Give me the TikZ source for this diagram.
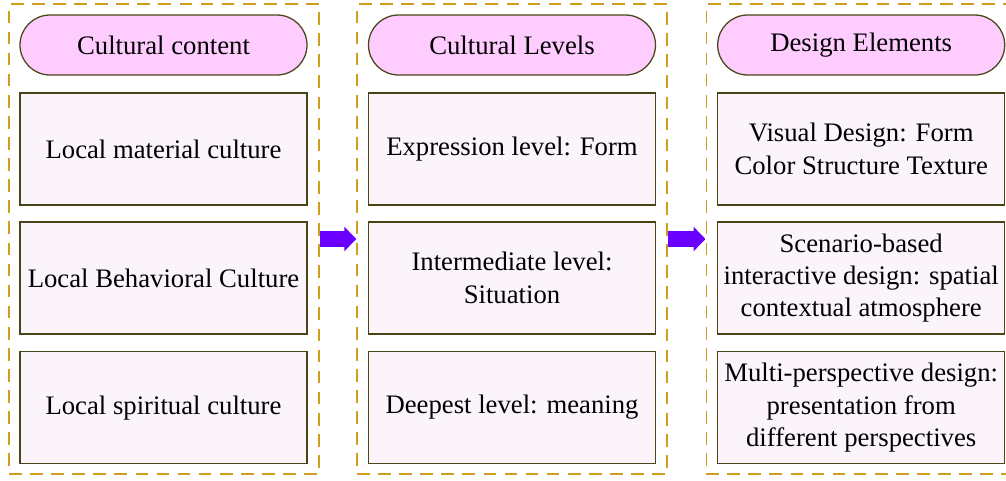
\documentclass[tikz,border=0pt]{standalone}
\usepackage{fontspec}
\setmainfont{Liberation Serif}
\usetikzlibrary{arrows.meta, positioning, shapes.geometric}
\definecolor{gold}{HTML}{D09E1C}
\definecolor{olive}{HTML}{4A4519}
\definecolor{pinkfill}{HTML}{FFCCFF}
\definecolor{lightpink}{HTML}{FBF4FB}
\definecolor{violet2}{HTML}{6A00FF}
\tikzset{
  frame/.style={rectangle, draw=gold, dashed, dash pattern=on 9pt off 6pt, line width=1pt,
    minimum width=7.75cm, minimum height=11.75cm},
  header/.style={rectangle, rounded corners=0.75cm, draw=olive, line width=0.9pt, fill=pinkfill,
    minimum width=7.175cm, minimum height=1.5cm, align=center, font=\fontsize{19}{23}\selectfont},
  item/.style={rectangle, draw=olive, line width=0.9pt, fill=lightpink,
    minimum width=7.175cm, minimum height=2.8cm, align=center, font=\fontsize{19}{23}\selectfont},
  flow/.style={-{Triangle[length=0.3cm, width=0.6cm]}, line width=0.4cm, violet2},
}
\begin{document}
\begin{tikzpicture}
\clip (0,0) rectangle (25.15,-12);
% frames
\node[frame] (fcontent) at (4.1,-5.975) {};
\node[frame] (flevels) at (12.8,-5.975) {};
\node[frame] (felements) at (21.53,-5.975) {};
% column 1
\node[header] (hcontent) at (4.0875,-1.125) {Cultural content};
\node[item] (material) at (4.0875,-3.725) {Local material culture};
\node[item] (behavior) at (4.0875,-6.95) {Local Behavioral Culture};
\node[item] (spirit) at (4.0875,-10.19) {Local spiritual culture};
% column 2
\node[header] (hlevels) at (12.8,-1.125) {Cultural Levels};
\node[item] (express) at (12.8,-3.725) {Expression level: Form};
\node[item] (middle) at (12.8,-6.95) {Intermediate level:\\Situation};
\node[item] (deep) at (12.8,-10.19) {Deepest level: meaning};
% column 3
\node[header] (helements) at (21.53,-1.125) {Design Elements};
\node[item] (visual) at (21.53,-3.725) {Visual Design: Form\\Color Structure Texture};
\node[item] (scene) at (21.53,-6.95) {Scenario-based\\interactive design: spatial\\contextual atmosphere};
\node[item] (persp) at (21.53,-10.19) {Multi-perspective design:\\presentation from\\different perspectives};
% arrows
\draw[flow] (fcontent.east) -- (flevels.west);
\draw[flow] (flevels.east) -- (felements.west);
\end{tikzpicture}
\end{document}
